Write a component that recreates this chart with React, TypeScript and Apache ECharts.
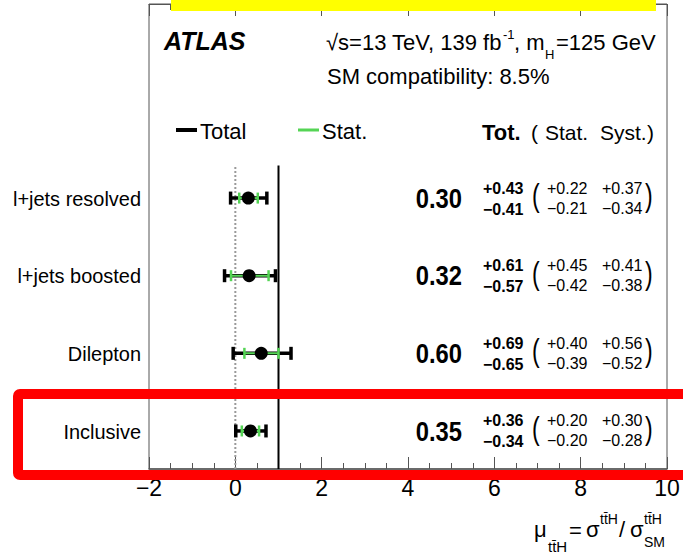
import React, { useEffect, useRef } from "react";
import * as echarts from "echarts";

// Signal-strength fit results per channel (central value, total, stat and syst uncertainties)
const channels = ["l+jets resolved", "l+jets boosted", "Dilepton", "Inclusive"];
const mu = [0.3, 0.32, 0.6, 0.35];
const totUp = [0.43, 0.61, 0.69, 0.36];
const totDn = [0.41, 0.57, 0.65, 0.34];
const statUp = [0.22, 0.45, 0.4, 0.2];
const statDn = [0.21, 0.42, 0.39, 0.2];
const systUp = [0.37, 0.41, 0.56, 0.3];
const systDn = [0.34, 0.38, 0.52, 0.28];

// x-axis range and tick step
const xMin = -2;
const xMax = 10;
const xStep = 2;

// reference lines: background-only and SM expectation
const muZero = 0;
const muSM = 1;

const FONT = '"Liberation Sans", Arial, Helvetica, sans-serif';
const GREEN = "#55d455";

// vertical extent of the row area in axis units
const Y_MIN = -0.49;
const Y_MAX = 5.5;
const REF_TOP = 3.42;

const rowValue = (i: number) => channels.length - 1 - i;

const fmt = (v: number) => v.toFixed(2);
const minus = "\u2212";

type TextOpts = {
  bold?: boolean;
  italic?: boolean;
  align?: string;
  scaleX?: number;
  color?: string;
};

const textEl = (text: string, x: number, y: number, size: number, o: TextOpts = {}) => ({
  type: "text",
  x,
  y,
  scaleX: o.scaleX ?? 1,
  silent: true,
  z: 50,
  style: {
    text,
    fill: o.color ?? "#000",
    fontFamily: FONT,
    fontSize: size,
    fontWeight: o.bold ? "bold" : "normal",
    fontStyle: o.italic ? "italic" : "normal",
    align: o.align ?? "left",
    textAlign: o.align ?? "left",
    verticalAlign: "middle",
    textVerticalAlign: "middle",
  },
});

const seg = (x1: number, y1: number, x2: number, y2: number, stroke: string, w: number) => ({
  type: "line",
  shape: { x1, y1, x2, y2 },
  style: { stroke, lineWidth: w },
});

// text columns on the right-hand side of the frame
const COL_VALUE = 462;
const COL_TOT = 483;
const COL_OPEN = 532;
const COL_STAT = 547;
const COL_SYST = 602;
const COL_CLOSE = 645;

const renderItem = (params: any, api: any) => {
  const i = params.dataIndex;
  const row = api.value(1);
  const px = (v: number) => api.coord([v, row]);
  const [cx, cy] = px(mu[i]);
  const tLo = px(mu[i] - totDn[i])[0];
  const tHi = px(mu[i] + totUp[i])[0];
  const sLo = px(mu[i] - statDn[i])[0];
  const sHi = px(mu[i] + statUp[i])[0];
  const labelX = params.coordSys.x - 8;

  const children: any[] = [
    textEl(channels[i], labelX, cy, 21, { align: "right", scaleX: 0.95 }),
    // total uncertainty
    seg(tLo, cy, tHi, cy, "#000", 3.5),
    seg(tLo, cy - 6.5, tLo, cy + 6.5, "#000", 3.5),
    seg(tHi, cy - 6.5, tHi, cy + 6.5, "#000", 3.5),
    // statistical uncertainty
    seg(sLo, cy, sHi, cy, GREEN, 2),
    seg(sLo, cy - 5.5, sLo, cy + 5.5, GREEN, 2.5),
    seg(sHi, cy - 5.5, sHi, cy + 5.5, GREEN, 2.5),
    { type: "circle", shape: { cx, cy, r: 6.5 }, style: { fill: "#000" } },
    // numerical summary
    textEl(fmt(mu[i]), COL_VALUE, cy, 27, { bold: true, align: "right", scaleX: 0.88 }),
    textEl("+" + fmt(totUp[i]), COL_TOT, cy - 10, 16, { bold: true }),
    textEl(minus + fmt(totDn[i]), COL_TOT, cy + 11, 16, { bold: true }),
    textEl("(", COL_OPEN, cy - 3, 32, { scaleX: 0.72 }),
    textEl("+" + fmt(statUp[i]), COL_STAT, cy - 10, 16),
    textEl(minus + fmt(statDn[i]), COL_STAT, cy + 10, 16),
    textEl("+" + fmt(systUp[i]), COL_SYST, cy - 10, 16),
    textEl(minus + fmt(systDn[i]), COL_SYST, cy + 10, 16),
    textEl(")", COL_CLOSE, cy - 3, 32, { scaleX: 0.72 }),
  ];
  return { type: "group", children };
};

const tickLabel = (v: number) => (v < 0 ? minus + Math.abs(v) : String(v));

const frameColor = "#555";

const buildOption = () => ({
  animation: false,
  grid: {
    left: 149,
    right: 16,
    top: 4,
    bottom: 87,
    show: true,
    borderColor: frameColor,
    borderWidth: 1,
    backgroundColor: "transparent",
  },
  xAxis: [
    {
      type: "value",
      position: "bottom",
      min: xMin,
      max: xMax,
      interval: xStep,
      axisLine: { show: true, onZero: false, lineStyle: { color: frameColor, width: 1.5 } },
      axisTick: { show: true, inside: true, length: 12, lineStyle: { color: frameColor, width: 1 } },
      minorTick: { show: true, splitNumber: 4, length: 6, lineStyle: { color: frameColor, width: 1 } },
      splitLine: { show: false },
      minorSplitLine: { show: false },
      axisLabel: {
        fontSize: 23,
        color: "#000",
        fontFamily: FONT,
        margin: 7,
        formatter: tickLabel,
      },
    },
    {
      type: "value",
      position: "top",
      min: xMin,
      max: xMax,
      interval: xStep,
      axisLine: { show: true, onZero: false, lineStyle: { color: frameColor, width: 1 } },
      axisTick: { show: true, inside: true, length: 12, lineStyle: { color: frameColor, width: 1 } },
      minorTick: { show: true, splitNumber: 4, length: 6, lineStyle: { color: frameColor, width: 1 } },
      splitLine: { show: false },
      axisLabel: { show: false },
    },
  ],
  yAxis: {
    type: "value",
    min: Y_MIN,
    max: Y_MAX,
    axisLine: { show: false, onZero: false },
    axisTick: { show: false },
    axisLabel: { show: false },
    splitLine: { show: false },
  },
  series: [
    {
      type: "line",
      xAxisIndex: 0,
      data: [
        [muZero, Y_MIN],
        [muZero, REF_TOP],
      ],
      showSymbol: false,
      silent: true,
      lineStyle: { color: "#9a9a9a", width: 2, type: [2, 2] },
      z: 2,
    },
    {
      type: "line",
      xAxisIndex: 0,
      data: [
        [muSM, Y_MIN],
        [muSM, REF_TOP],
      ],
      showSymbol: false,
      silent: true,
      lineStyle: { color: "#000", width: 2 },
      z: 2,
    },
    {
      type: "custom",
      xAxisIndex: 0,
      renderItem,
      data: channels.map((_, i) => [mu[i], rowValue(i)]),
      z: 5,
      silent: true,
    },
  ],
  graphic: [
    // highlight bar at the top edge
    {
      type: "rect",
      z: 100,
      silent: true,
      shape: { x: 171, y: 0, width: 485, height: 11 },
      style: { fill: "#ffff00" },
    },
    // highlight frame around the inclusive result
    {
      type: "rect",
      z: 100,
      silent: true,
      shape: { x: 18, y: 394, width: 720, height: 81, r: 2 },
      style: { fill: "none", stroke: "#ff0000", lineWidth: 10 },
    },
    textEl("ATLAS", 164, 41, 25, { bold: true, italic: true }),
    textEl("\u221As=13 TeV, 139 fb", 326, 42, 22),
    textEl("-1", 503, 34, 13),
    textEl(", m", 514, 42, 22),
    textEl("H", 545, 54, 13),
    textEl("=125 GeV", 556, 42, 22),
    textEl("SM compatibility: 8.5%", 327, 76, 22),
    // legend
    {
      type: "line",
      z: 50,
      silent: true,
      shape: { x1: 176, y1: 130, x2: 197, y2: 130 },
      style: { stroke: "#000", lineWidth: 4 },
    },
    textEl("Total", 200, 131, 22),
    {
      type: "line",
      z: 50,
      silent: true,
      shape: { x1: 298, y1: 130, x2: 319, y2: 130 },
      style: { stroke: GREEN, lineWidth: 3 },
    },
    textEl("Stat.", 322, 131, 22),
    // column headers
    textEl("Tot.", 482, 132, 22, { bold: true }),
    textEl("(", 531, 132, 21),
    textEl("Stat.", 545, 132, 21),
    textEl("Syst.", 600, 132, 21),
    textEl(")", 647, 132, 21),
    // x-axis title
    textEl("\u03BC", 534, 529, 22),
    textEl("tt\u0304H", 548, 546, 15),
    textEl("=", 569, 530, 22),
    textEl("\u03C3", 586, 529, 22),
    textEl("tt\u0304H", 600, 519, 14),
    textEl("/", 619, 529, 22),
    textEl("\u03C3", 630, 529, 22),
    textEl("tt\u0304H", 644, 519, 14),
    textEl("SM", 644, 542, 14),
  ],
});

export default function App() {
  const ref = useRef<HTMLDivElement | null>(null);

  useEffect(() => {
    if (!ref.current) return;
    const chart = echarts.init(ref.current, undefined, { renderer: "svg" });
    chart.setOption(buildOption() as any);
    return () => {
      chart.dispose();
    };
  }, []);

  return (
    <div
      ref={ref}
      style={{ position: "absolute", left: 0, top: 0, width: 683, height: 556, background: "#fff" }}
    />
  );
}
